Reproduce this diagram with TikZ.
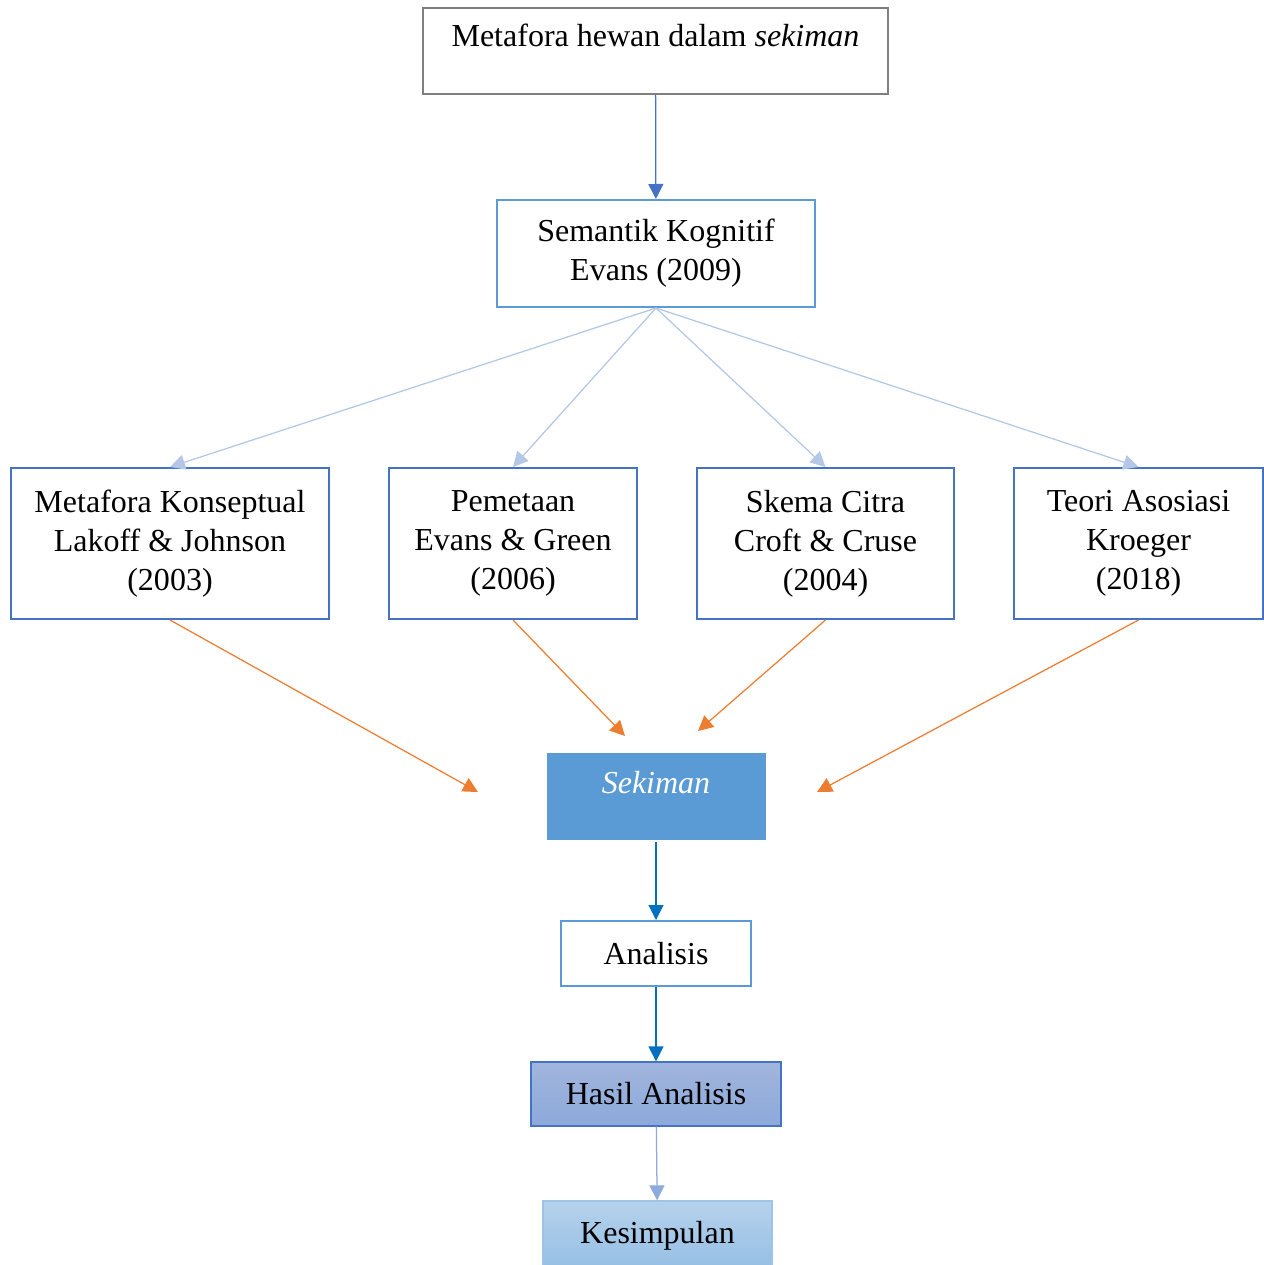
\documentclass[tikz,border=0pt]{standalone}
\usepackage{fontspec}
\setmainfont{Liberation Serif}
\usetikzlibrary{arrows.meta}
\definecolor{abu}{HTML}{7F7F7F}
\definecolor{biru}{HTML}{4472C4}
\definecolor{birumuda}{HTML}{5B9BD5}
\definecolor{birupucat}{HTML}{B4C7E7}
\definecolor{birutua}{HTML}{0070C0}
\definecolor{jingga}{HTML}{ED7D31}
\definecolor{ungu}{HTML}{8FAADC}
\begin{document}
\begin{tikzpicture}[x=0.4pt,y=-0.4pt,
		every node/.style={font=\fontsize{12.8}{15.6}\selectfont,align=center,text=black,
				rectangle,inner xsep=0pt},
		hb/.style={draw=abu,line width=0.6pt,minimum width=186pt,inner ysep=0pt,
				text height=15.6pt,text depth=18.8pt},
		sb/.style={draw=birumuda,line width=0.8pt,minimum height=42.8pt},
		tb/.style={draw=biru,line width=0.8pt,minimum height=60.4pt},
		ab/.style={draw=birumuda,line width=0.8pt,minimum height=26pt},
		tip/.style={-{Triangle[length=6pt,width=6pt]},line width=0.5pt}]
	\useasboundingbox (0,0) rectangle (1264,1265);
	\node[hb] (judul) at (655.5,51) {Metafora hewan dalam \textit{sekiman}};
	\node[sb,minimum width=127.2pt] (sk) at (656,253.5) {Semantik Kognitif\\Evans (2009)};
	\node[tb,minimum width=127.2pt] (t1) at (170,543.5) {Metafora Konseptual\\Lakoff \& Johnson\\(2003)};
	\node[tb,minimum width=99.2pt] (t2) at (513,543.5) {Pemetaan\\Evans \& Green\\(2006)};
	\node[tb,minimum width=102.8pt] (t3) at (825.5,543.5) {Skema Citra\\Croft \& Cruse\\(2004)};
	\node[tb,minimum width=99.6pt] (t4) at (1138.5,543.5) {Teori Asosiasi\\Kroeger\\(2018)};
	\node[fill=birumuda,draw=birumuda,minimum width=87.2pt,inner ysep=0pt,
		text height=16pt,text depth=18.4pt,text=white] (sek) at (656,796) {\textit{Sekiman}};
	\node[ab,minimum width=76pt] (an) at (656,953.5) {Analisis};
	\node[draw=biru,line width=0.5pt,top color=black!4!ungu!80,bottom color=ungu!70!biru!85,
		minimum width=100pt,minimum height=25.6pt] (ha) at (656,1094) {Hasil Analisis};
	\node[draw=birumuda!60,line width=0.5pt,top color=birumuda!45,bottom color=birumuda!65,
		minimum width=91.6pt,minimum height=28pt] (kes) at (657.5,1236) {Kesimpulan};
	% titik ujung panah jingga
	\coordinate (o1) at (478,792);
	\coordinate (o2) at (625,736);
	\coordinate (o3) at (698,731);
	\coordinate (o4) at (817,792);
	\draw[tip,biru] (judul) -- (sk);
	\foreach \t in {t1,t2,t3,t4}
		\draw[tip,birupucat] (sk.south) -- (\t.north);
	\draw[tip,jingga] (t1.south) -- (o1);
	\draw[tip,jingga] (t2.south) -- (o2);
	\draw[tip,jingga] (t3.south) -- (o3);
	\draw[tip,jingga] (t4.south) -- (o4);
	\draw[tip,birutua] ([yshift=-1pt]sek.south) -- (an);
	\draw[tip,birutua] (an) -- (ha);
	\draw[tip,ungu] (ha) -- (kes);
\end{tikzpicture}
\end{document}
